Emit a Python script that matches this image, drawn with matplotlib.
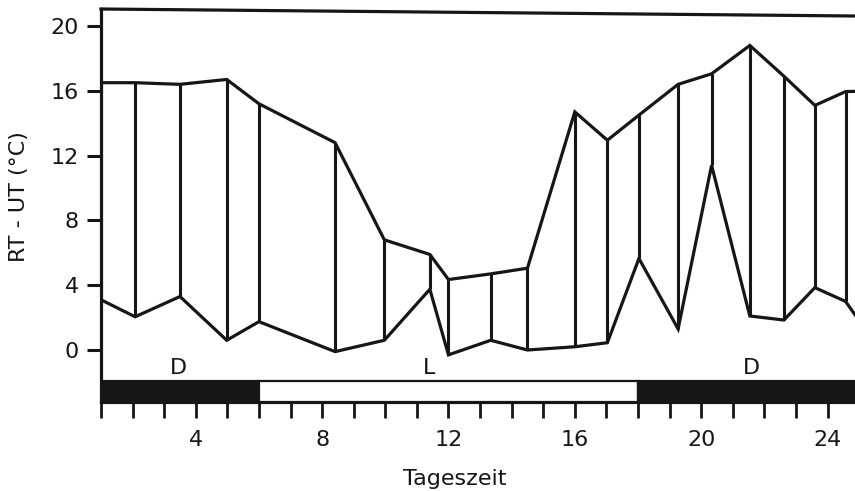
import matplotlib

matplotlib.use("Agg")
import matplotlib.pyplot as plt
from matplotlib.ticker import FixedLocator, FuncFormatter

# measurement times (h) with upper / lower RT-UT values (°C)
hours = [1.0, 2.08, 3.5, 4.98, 6.0, 8.41, 9.97, 11.41, 12.0, 13.34, 14.5,
         16.0, 17.03, 18.03, 19.27, 20.33, 21.54, 22.62, 23.6, 24.57, 25.5]
upper = [16.5, 16.5, 16.4, 16.7, 15.2, 12.8, 6.8, 5.9, 4.35, 4.7, 5.05,
         14.7, 12.95, 14.5, 16.4, 17.05, 18.8, 16.9, 15.1, 15.95, 16.0]
lower = [3.1, 2.05, 3.3, 0.6, 1.75, -0.1, 0.6, 3.75, -0.3, 0.6, 0.0,
         0.2, 0.45, 5.65, 1.3, 11.4, 2.1, 1.85, 3.85, 3.0, 0.45]

# light regime (D = dark, L = light)
phase_start = [0, 6, 18]
phase_end = [6, 18, 26]
phase_dark = [True, False, True]
phase_label = ["D", "L", "D"]
phase_label_x = [3.45, 11.4, 21.6]

y_ticks = [0, 4, 8, 12, 16, 20]
x_ticks = list(range(1, 25))
x_labeled = [4, 8, 12, 16, 20, 24]

INK = "#161616"
FS = 16
plt.rcParams["font.family"] = ["DejaVu Sans"]

fig = plt.figure(figsize=(8.55, 4.91), dpi=100)
ax = fig.add_axes([101 / 855, 89 / 491, 754 / 855, 393 / 491])

ax.set_xlim(1, 24.87)
ax.set_ylim(-3.21, 21.05)

# envelope lines + vertical connectors
ax.vlines(hours, lower, upper, color=INK, lw=2.2)
ax.plot(hours, upper, color=INK, lw=2.3, solid_joinstyle="miter")
ax.plot(hours, lower, color=INK, lw=2.3, solid_joinstyle="miter")

# light / dark bar
bar_bottom, bar_top = -3.21, -1.91
for start, end, dark in zip(phase_start, phase_end, phase_dark):
    ax.bar(start, bar_top - bar_bottom, width=end - start, bottom=bar_bottom,
           align="edge", color=INK if dark else "white", edgecolor=INK,
           linewidth=1.6, zorder=3)
for lab, lx in zip(phase_label, phase_label_x):
    ax.text(lx, -1.1, lab, ha="center", va="center", fontsize=FS, color=INK)

# axes styling
for side in ["right", "top"]:
    ax.spines[side].set_visible(False)
ax.spines["left"].set_linewidth(2.3)
ax.spines["bottom"].set_linewidth(2.3)
ax.spines["left"].set_color(INK)
ax.spines["bottom"].set_color(INK)
# top frame line (slightly tilted, as in the scan)
ax.plot([0, 1], [1, 1 - 7 / 393], transform=ax.transAxes, color=INK,
        lw=2.3, clip_on=False)

ax.yaxis.set_major_locator(FixedLocator(y_ticks))
ax.xaxis.set_major_locator(FixedLocator(x_ticks))
ax.xaxis.set_major_formatter(
    FuncFormatter(lambda v, p: f"{int(round(v))}" if int(round(v)) in x_labeled else "")
)
ax.tick_params(axis="y", length=10, width=2.2, pad=6, labelsize=FS,
               color=INK, labelcolor=INK)
ax.tick_params(axis="x", length=11.5, width=2.0, pad=9, labelsize=FS,
               color=INK, labelcolor=INK)

fig.text(19 / 855, 1 - 197 / 491, "RT - UT (°C)", rotation=90,
         ha="center", va="center", fontsize=FS, color=INK)
fig.text(455 / 855, 1 - 485 / 491, "Tageszeit", ha="center",
         va="baseline", fontsize=FS, color=INK)

fig.savefig("out.png", dpi=100)
